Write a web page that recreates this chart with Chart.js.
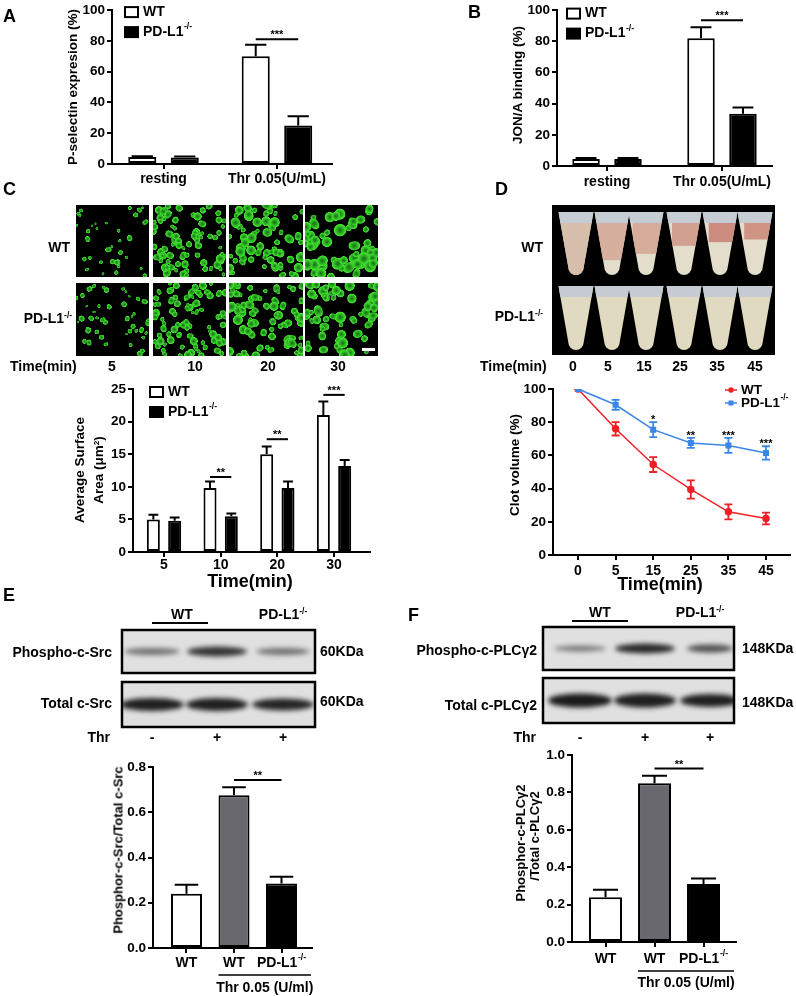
<!DOCTYPE html>
<html>
<head>
<meta charset="utf-8">
<script src="https://cdn.jsdelivr.net/npm/chart.js@4.4.1/dist/chart.umd.min.js"></script>
<style>
  body { margin: 0; background: #fff; }
  #fig { position: relative; width: 796px; height: 996px; overflow: hidden;
         font-family: 'Liberation Sans', Arial, sans-serif; font-weight: bold; color: #000; }
  #fig canvas { position: absolute; }
  .t { position: absolute; white-space: nowrap; line-height: 1; }
  .t sup { font-size: 0.6em; vertical-align: baseline; position: relative; top: -0.55em; }
</style>
</head>
<body>
<div id="fig"><canvas id="bg" width="796" height="996" style="left:0;top:0"></canvas></div>
<script>
// ---- data ----
const seriesNames = ['WT', 'PD-L1^-/-'];

const pselCats = ['resting', 'Thr 0.05(U/mL)'];
const pselWT = [4.5, 70];
const pselWTErr = [0.6, 7.5];
const pselKO = [4.2, 25];
const pselKOErr = [0.6, 6];
const pselSig = ['', '***'];
const pselSigLevel = [null, 81];

const jonCats = ['resting', 'Thr 0.05(U/mL)'];
const jonWT = [4.5, 82];
const jonWTErr = [0.7, 7];
const jonKO = [4.5, 33.5];
const jonKOErr = [0.6, 4];
const jonSig = ['', '***'];
const jonSigLevel = [null, 93.5];

const spreadTimes = ['5', '10', '20', '30'];
const spreadWT = [5, 9.8, 15, 21];
const spreadWTErr = [0.7, 1.0, 1.2, 2.1];
const spreadKO = [4.8, 5.5, 9.8, 13.2];
const spreadKOErr = [0.5, 0.4, 1.0, 0.9];
const spreadSig = ['', '**', '**', '***'];
const spreadSigLevel = [null, 11.5, 17.3, 24.1];

const clotTimes = ['0', '5', '15', '25', '35', '45'];
const clotWT = [100, 76, 54.5, 39.5, 26, 22];
const clotWTErr = [0, 4, 4.5, 5.5, 4.5, 3.5];
const clotKO = [100, 90.5, 75.5, 67.5, 66, 61.5];
const clotKOErr = [0, 3, 4.5, 3, 4.5, 4];
const clotSig = ['', '', '*', '**', '***', '***'];

const blotGroups = ['WT', 'WT', 'PD-L1^-/-'];
const treatLabel = 'Thr 0.05 (U/ml)';
const srcVals = [0.24, 0.675, 0.285];
const srcErr = [0.04, 0.035, 0.03];
const srcSigLevel = 0.742;
const plcVals = [0.24, 0.85, 0.31];
const plcErr = [0.04, 0.04, 0.03];
const plcSigLevel = 0.928;
const sigText = '**';

// ---- setup ----
const FONT = "'Liberation Sans', Arial, sans-serif";
const RED = 'rgb(238,32,36)';
const BLUE = 'rgb(58,134,232)';
const GREY = 'rgb(104,104,110)';
const fig = document.getElementById('fig');

Chart.defaults.font.family = FONT;
Chart.defaults.font.weight = 'bold';
Chart.defaults.font.size = 14;
Chart.defaults.color = '#000';
Chart.defaults.animation = false;
Chart.defaults.plugins.legend.display = false;
Chart.defaults.plugins.tooltip.enabled = false;

function richText(ctx, s, x, y, size, align) {
  const parts = s.split('^');
  const ss = size * 0.62;
  ctx.save();
  ctx.fillStyle = '#000';
  ctx.textBaseline = 'middle';
  ctx.textAlign = 'left';
  ctx.font = 'bold ' + size + 'px ' + FONT;
  const w1 = ctx.measureText(parts[0]).width;
  let w2 = 0;
  if (parts[1]) { ctx.font = 'bold ' + ss + 'px ' + FONT; w2 = ctx.measureText(parts[1]).width + 0.5; }
  const x0 = align === 'center' ? x - (w1 + w2) / 2 : align === 'right' ? x - w1 - w2 : x;
  ctx.font = 'bold ' + size + 'px ' + FONT;
  ctx.fillText(parts[0], x0, y);
  if (parts[1]) {
    ctx.font = 'bold ' + ss + 'px ' + FONT;
    ctx.fillText(parts[1], x0 + w1 + 0.5, y - size * 0.36);
  }
  ctx.restore();
}

function makeCanvas(box) {
  const c = document.createElement('canvas');
  c.width = box[2]; c.height = box[3];
  c.style.left = box[0] + 'px'; c.style.top = box[1] + 'px';
  c.style.width = box[2] + 'px'; c.style.height = box[3] + 'px';
  fig.appendChild(c);
  return c;
}

// box = canvas [left, top, w, h], area = plot [left, top, right, bottom] in page px
function frame(box, area) {
  return { yw: area[0] - box[0], top: area[1] - box[1], right: box[0] + box[2] - area[2], xh: box[1] + box[3] - area[3] };
}

function axisLine() {
  return {
    grid: { drawOnChartArea: false, offset: false, color: '#000', lineWidth: 2, tickLength: 5 },
    border: { color: '#000', width: 2 }
  };
}

function xScale(labels, min, max, h, show, pad) {
  return Object.assign({
    type: 'linear', min: min, max: max, offset: false,
    afterBuildTicks: s => { s.ticks = labels.map((l, i) => ({ value: i })); },
    afterFit: s => { s.height = h; },
    ticks: { display: show, autoSkip: false, maxRotation: 0, padding: pad,
             font: { size: 14, lineHeight: 1 }, callback: v => labels[v] }
  }, axisLine());
}

function yScale(max, step, w, digits) {
  return Object.assign({
    min: 0, max: max,
    afterFit: s => { s.width = w; },
    ticks: { stepSize: step, padding: 2, font: { size: 13.5 },
             callback: v => digits ? v.toFixed(digits) : v }
  }, axisLine());
}

const barErrors = {
  id: 'barErrors',
  afterDatasetsDraw(chart) {
    const ctx = chart.ctx, ys = chart.scales.y;
    chart.data.datasets.forEach((ds, di) => {
      chart.getDatasetMeta(di).data.forEach((bar, i) => {
        const top = ys.getPixelForValue(ds.data[i].y + ds.errors[i]);
        const half = bar.width * 0.38;
        ctx.save();
        ctx.strokeStyle = '#000'; ctx.lineWidth = 2;
        ctx.beginPath();
        ctx.moveTo(bar.x, bar.y); ctx.lineTo(bar.x, top);
        ctx.moveTo(bar.x - half, top); ctx.lineTo(bar.x + half, top);
        ctx.stroke();
        ctx.restore();
      });
    });
  }
};

// significance bar between two bars
function sigPlugin(items) {
  return {
    id: 'sig',
    afterDatasetsDraw(chart) {
      const ctx = chart.ctx, ys = chart.scales.y;
      items.forEach(it => {
        const a = chart.getDatasetMeta(it.from[0]).data[it.from[1]];
        const b = chart.getDatasetMeta(it.to[0]).data[it.to[1]];
        const py = ys.getPixelForValue(it.level);
        ctx.save();
        ctx.strokeStyle = '#000'; ctx.lineWidth = 2;
        ctx.beginPath(); ctx.moveTo(a.x, py); ctx.lineTo(b.x, py); ctx.stroke();
        ctx.fillStyle = '#000';
        ctx.font = 'bold 11px ' + FONT;
        ctx.textAlign = 'center'; ctx.textBaseline = 'alphabetic';
        ctx.fillText(it.text, (a.x + b.x) / 2, py - 1);
        ctx.restore();
      });
    }
  };
}

function groupSig(texts, levels) {
  const items = [];
  texts.forEach((t, i) => { if (t) items.push({ from: [0, i], to: [1, i], level: levels[i], text: t }); });
  return sigPlugin(items);
}

function boxLegend(dx, dy, gap) {
  const fills = ['#fff', '#000'];
  return {
    id: 'boxLegend',
    afterDraw(chart) {
      const ctx = chart.ctx, a = chart.chartArea;
      seriesNames.forEach((name, k) => {
        const x = a.left + dx, y = a.top + dy + k * gap;
        ctx.save();
        ctx.fillStyle = fills[k]; ctx.fillRect(x, y - 5, 13, 10);
        ctx.strokeStyle = '#000'; ctx.lineWidth = 2; ctx.strokeRect(x, y - 5, 13, 10);
        ctx.restore();
        richText(ctx, name, x + 18, y, 14, 'left');
      });
    }
  };
}

function groupLabels(dy1, dy2, dy3) {
  return {
    id: 'grpLabels',
    afterDraw(chart) {
      const ctx = chart.ctx, a = chart.chartArea, bars = chart.getDatasetMeta(0).data;
      blotGroups.forEach((l, i) => richText(ctx, l, bars[i].x, a.bottom + dy1, 14, 'center'));
      const x1 = bars[1].x - bars[1].width / 2, x2 = bars[2].x + bars[2].width / 2 + 14;
      ctx.save();
      ctx.strokeStyle = '#000'; ctx.lineWidth = 1.5;
      ctx.beginPath(); ctx.moveTo(x1, a.bottom + dy2); ctx.lineTo(x2, a.bottom + dy2); ctx.stroke();
      ctx.restore();
      richText(ctx, treatLabel, (x1 + x2) / 2, a.bottom + dy3, 14, 'center');
    }
  };
}

function barChart(o) {
  const f = frame(o.box, o.area);
  return new Chart(makeCanvas(o.box), {
    type: 'bar',
    data: { datasets: o.datasets },
    options: {
      responsive: false,
      layout: { padding: { top: f.top, right: f.right, left: 0, bottom: 0 } },
      datasets: { bar: { categoryPercentage: o.cat, barPercentage: o.bar, borderWidth: 2,
                         borderColor: '#000', borderSkipped: false } },
      scales: {
        x: xScale(o.labels, o.xmin, o.xmax, f.xh, o.showX, o.xpad),
        y: yScale(o.ymax, o.ystep, f.yw, o.digits)
      }
    },
    plugins: o.plugins
  });
}

function pairSets(wt, wtErr, ko, koErr) {
  return [
    { data: wt.map((v, i) => ({ x: i, y: v })), errors: wtErr, backgroundColor: '#fff' },
    { data: ko.map((v, i) => ({ x: i, y: v })), errors: koErr, backgroundColor: '#000' }
  ];
}

// ---- A ----
barChart({
  box: [0, 0, 400, 190], area: [112, 10, 332, 164],
  labels: pselCats, xmin: -0.454, xmax: 1.485, showX: true, xpad: 3,
  cat: 0.749, bar: 0.66, ymax: 100, ystep: 20,
  datasets: pairSets(pselWT, pselWTErr, pselKO, pselKOErr),
  plugins: [barErrors, groupSig(pselSig, pselSigLevel), boxLegend(13, 2, 20)]
});

// ---- B ----
barChart({
  box: [400, 0, 396, 190], area: [557, 8, 772, 166],
  labels: jonCats, xmin: -0.435, xmax: 1.435, showX: true, xpad: 4,
  cat: 0.73, bar: 0.655, ymax: 100, ystep: 20,
  datasets: pairSets(jonWT, jonWTErr, jonKO, jonKOErr),
  plugins: [barErrors, groupSig(jonSig, jonSigLevel), boxLegend(10, 3.5, 20)]
});

// ---- C ----
barChart({
  box: [0, 375, 400, 215], area: [133, 389, 370, 552],
  labels: spreadTimes, xmin: -0.547, xmax: 3.635, showX: true, xpad: 1,
  cat: 0.752, bar: 0.61, ymax: 25, ystep: 5,
  datasets: pairSets(spreadWT, spreadWTErr, spreadKO, spreadKOErr),
  plugins: [barErrors, groupSig(spreadSig, spreadSigLevel), boxLegend(17, 3, 20)]
});

// ---- D ----
const lineErrors = {
  id: 'lineErrors',
  beforeDatasetsDraw(chart) {
    const ctx = chart.ctx, ys = chart.scales.y;
    chart.data.datasets.forEach((ds, di) => {
      chart.getDatasetMeta(di).data.forEach((pt, i) => {
        const e = ds.errors[i];
        if (!e) return;
        const hi = ys.getPixelForValue(ds.data[i].y + e), lo = ys.getPixelForValue(ds.data[i].y - e);
        ctx.save();
        ctx.strokeStyle = ds.borderColor; ctx.lineWidth = 1.8;
        ctx.beginPath();
        ctx.moveTo(pt.x, hi); ctx.lineTo(pt.x, lo);
        ctx.moveTo(pt.x - 4, hi); ctx.lineTo(pt.x + 4, hi);
        ctx.moveTo(pt.x - 4, lo); ctx.lineTo(pt.x + 4, lo);
        ctx.stroke();
        ctx.restore();
      });
    });
  }
};
const clotStars = {
  id: 'clotStars',
  afterDatasetsDraw(chart) {
    const ctx = chart.ctx, ys = chart.scales.y, pts = chart.getDatasetMeta(1).data;
    ctx.save();
    ctx.fillStyle = '#000'; ctx.font = 'bold 11px ' + FONT;
    ctx.textAlign = 'center'; ctx.textBaseline = 'alphabetic';
    clotSig.forEach((t, i) => {
      if (t) ctx.fillText(t, pts[i].x, ys.getPixelForValue(clotKO[i] + clotKOErr[i]) + 1);
    });
    ctx.restore();
  }
};
const lineLegend = {
  id: 'lineLegend',
  afterDraw(chart) {
    const ctx = chart.ctx, a = chart.chartArea;
    chart.data.datasets.forEach((ds, k) => {
      const x = a.right - 65, y = a.top + 1 + k * 13;
      ctx.save();
      ctx.strokeStyle = ds.borderColor; ctx.fillStyle = ds.borderColor; ctx.lineWidth = 1.5;
      ctx.beginPath(); ctx.moveTo(x, y); ctx.lineTo(x + 12, y); ctx.stroke();
      if (ds.pointStyle === 'rect') ctx.fillRect(x + 3.5, y - 2.5, 5, 5);
      else { ctx.beginPath(); ctx.arc(x + 6, y, 2.7, 0, Math.PI * 2); ctx.fill(); }
      ctx.restore();
      richText(ctx, seriesNames[k], x + 16, y, 13.5, 'left');
    });
  }
};
(function () {
  const box = [400, 375, 396, 215], f = frame(box, [553, 389, 790, 555]);
  new Chart(makeCanvas(box), {
    type: 'line',
    data: {
      datasets: [
        { data: clotWT.map((v, i) => ({ x: i, y: v })), errors: clotWTErr, borderColor: RED,
          backgroundColor: RED, pointStyle: 'circle', pointRadius: 3, borderWidth: 1.5, order: 1 },
        { data: clotKO.map((v, i) => ({ x: i, y: v })), errors: clotKOErr, borderColor: BLUE,
          backgroundColor: BLUE, pointStyle: 'rect', pointRadius: 3.2, borderWidth: 1.5, order: 0 }
      ]
    },
    options: {
      responsive: false,
      layout: { padding: { top: f.top, right: f.right, left: 0, bottom: 0 } },
      scales: {
        x: xScale(clotTimes, -0.665, 5.638, f.xh, true, 4),
        y: yScale(100, 20, f.yw, 0)
      }
    },
    plugins: [lineErrors, clotStars, lineLegend]
  });
})();

// ---- E / F ----
function ratioSets(vals, err) {
  return [{ data: vals.map((v, i) => ({ x: i, y: v })), errors: err, backgroundColor: ['#fff', GREY, '#000'] }];
}
barChart({
  box: [0, 750, 400, 246], area: [153, 767, 312, 948],
  labels: blotGroups, xmin: -0.705, xmax: 2.642, showX: false, xpad: 2,
  cat: 1, bar: 0.653, ymax: 0.8, ystep: 0.2, digits: 1,
  datasets: ratioSets(srcVals, srcErr),
  plugins: [barErrors, sigPlugin([{ from: [0, 1], to: [0, 2], level: srcSigLevel, text: sigText }]), groupLabels(15, 27, 40)]
});
barChart({
  box: [400, 745, 396, 251], area: [572, 754, 736, 942],
  labels: blotGroups, xmin: -0.684, xmax: 2.663, showX: false, xpad: 2,
  cat: 1, bar: 0.673, ymax: 1.0, ystep: 0.2, digits: 1,
  datasets: ratioSets(plcVals, plcErr),
  plugins: [barErrors, sigPlugin([{ from: [0, 1], to: [0, 2], level: plcSigLevel, text: sigText }]), groupLabels(17, 29, 41)]
});

// ---- picture panels (photos / blots, drawn as plain shapes) ----
const bg = document.getElementById('bg').getContext('2d');

function lcg(seed) {
  return function () { seed = (seed * 16807) % 2147483647; return (seed - 1) / 2147483646; };
}
function cells(x, y, w, h, n, r, seed) {
  bg.fillStyle = '#000'; bg.fillRect(x, y, w, h);
  const rnd = lcg(seed);
  bg.save();
  bg.beginPath(); bg.rect(x, y, w, h); bg.clip();
  for (let k = 0; k < n; k++) {
    const cx = x + rnd() * w, cy = y + rnd() * h, rr = r * (0.6 + rnd() * 0.8);
    const g = bg.createRadialGradient(cx, cy, rr * 0.1, cx, cy, rr);
    g.addColorStop(0, 'rgb(25,120,25)');
    g.addColorStop(0.6, 'rgb(55,200,40)');
    g.addColorStop(0.85, 'rgb(70,230,50)');
    g.addColorStop(1, 'rgba(30,140,25,0.1)');
    bg.fillStyle = g;
    bg.beginPath(); bg.ellipse(cx, cy, rr, rr * (0.65 + rnd() * 0.35), rnd() * Math.PI, 0, Math.PI * 2); bg.fill();
  }
  bg.restore();
}
const imgCols = [[76, 149], [153, 226], [229, 303], [305, 378]];
const imgRows = [[205, 277], [283, 356]];
const cellCount = [[34, 85, 70, 55], [45, 90, 75, 62]];
const cellSize = [[2.5, 3.5, 4.3, 5.2], [2.5, 3.2, 4, 4.6]];
imgRows.forEach((rw, ri) => imgCols.forEach((cl, ci) => {
  cells(cl[0], rw[0], cl[1] - cl[0], rw[1] - rw[0], cellCount[ri][ci], cellSize[ri][ci], 101 + ri * 7 + ci * 31);
}));
bg.fillStyle = '#fff'; bg.fillRect(362, 348, 13, 3);

function tubePath(cx, top, bot, w) {
  const r = w * 0.22;
  bg.beginPath();
  bg.moveTo(cx - w / 2, top); bg.lineTo(cx + w / 2, top);
  bg.lineTo(cx + r, bot - r);
  bg.arc(cx, bot - r, r, 0, Math.PI);
  bg.closePath();
}
function tube(cx, top, bot, fill, clot, frac) {
  const w = 35;
  bg.save();
  tubePath(cx, top, bot, w);
  bg.fillStyle = fill; bg.fill();
  bg.clip();
  if (clot) { bg.fillStyle = clot; bg.fillRect(cx - w / 2 + (1 - frac) * 10, top + 10, w, (bot - top - 10) * frac); }
  bg.fillStyle = 'rgba(196,202,212,0.95)'; bg.fillRect(cx - w / 2, top, w, 11);
  bg.restore();
}
bg.fillStyle = '#000'; bg.fillRect(552, 205, 223, 150);
const tubeX = [576, 612, 646, 684, 720, 755];
const clotFrac = [1, 0.72, 0.6, 0.45, 0.38, 0.33];
const clotTint = ['rgb(214,190,170)', 'rgb(214,175,158)', 'rgb(214,172,155)', 'rgb(210,160,145)', 'rgb(205,140,128)', 'rgb(208,148,132)'];
tubeX.forEach((x, i) => {
  tube(x, 212, 275, 'rgb(226,222,203)', clotTint[i], clotFrac[i]);
  tube(x, 286, 350, 'rgb(224,218,192)', null, 0);
});

function blot(x, y, w, h, bands) {
  bg.fillStyle = 'rgb(224,224,224)'; bg.fillRect(x, y, w, h);
  bg.save();
  bg.beginPath(); bg.rect(x, y, w, h); bg.clip();
  bg.filter = 'blur(2.5px)';
  bands.forEach(b => {
    bg.fillStyle = 'rgba(20,20,20,' + b[3] + ')';
    bg.beginPath(); bg.ellipse(b[0], y + h / 2, b[1] / 2, b[2] / 2, 0, 0, Math.PI * 2); bg.fill();
  });
  bg.restore();
  bg.strokeStyle = '#000'; bg.lineWidth = 2.5; bg.strokeRect(x, y, w, h);
}
blot(122, 630, 193, 43, [[152, 56, 7, 0.55], [217, 60, 10, 0.85], [283, 54, 7, 0.55]]);
blot(122, 682, 193, 45, [[152, 64, 13, 0.95], [217, 62, 13, 0.95], [283, 62, 12, 0.92]]);
blot(543, 627, 191, 43, [[580, 52, 6, 0.5], [645, 60, 10, 0.9], [710, 46, 8, 0.7]]);
blot(543, 678, 191, 45, [[580, 64, 14, 0.97], [645, 62, 14, 0.95], [710, 60, 13, 0.95]]);
bg.strokeStyle = '#000'; bg.lineWidth = 2;
bg.beginPath(); bg.moveTo(152, 623); bg.lineTo(208, 623); bg.moveTo(572, 621); bg.lineTo(628, 621); bg.stroke();

// ---- text labels ----
function txt(html, x, y, align, size, rot) {
  const d = document.createElement('div');
  d.className = 't';
  d.innerHTML = html;
  d.style.left = x + 'px'; d.style.top = y + 'px';
  d.style.fontSize = size + 'px';
  const tx = align === 'c' ? '-50%' : align === 'r' ? '-100%' : '0';
  d.style.transform = 'translate(' + tx + ',-50%)' + (rot ? ' rotate(-90deg)' : '');
  fig.appendChild(d);
}
const KO = 'PD-L1<sup>-/-</sup>';
[['A', 3, 16], ['B', 468, 12], ['C', 3, 189], ['D', 495, 189], ['E', 3, 595], ['F', 408, 615]]
  .forEach(l => txt(l[0], l[1], l[2], 'l', 18));

txt('P-selectin expresion (%)', 73, 87, 'c', 13.5, true);
txt('JON/A binding (%)', 518, 85, 'c', 13.5, true);
txt('Average Surface', 80, 470, 'c', 13.5, true);
txt('Area (\u03bcm<sup>2</sup>)', 99, 470, 'c', 13.5, true);
txt('Clot volume (%)', 515, 465, 'c', 13.5, true);
txt('Phosphor-c-Src/Total c-Src', 118, 850, 'c', 13, true);
txt('Phosphor-c-PLC\u03b32', 520, 843, 'c', 13, true);
txt('/Total c-PLC\u03b32', 534, 836, 'c', 13, true);
txt('Time(min)', 250, 581, 'c', 18);
txt('Time(min)', 660, 584, 'c', 18);

txt('WT', 70, 247, 'r', 14); txt(KO, 72, 318, 'r', 14);
txt('Time(min)', 10, 366, 'l', 14);
['5', '10', '20', '30'].forEach((t, i) => txt(t, [112, 195, 268, 338][i], 366, 'c', 14));
txt('WT', 543, 247, 'r', 14); txt(KO, 543, 316, 'r', 14);
txt('Time(min)', 480, 366, 'l', 14);
clotTimes.forEach((t, i) => txt(t, [573, 608, 644, 680, 717, 755][i], 366, 'c', 14));

txt('WT', 182, 614, 'c', 14); txt(KO, 283, 614, 'c', 14);
txt('Phospho-c-Src', 112, 652, 'r', 14); txt('Total c-Src', 112, 703, 'r', 14);
txt('60KDa', 320, 651, 'l', 14); txt('60KDa', 320, 701, 'l', 14);
txt('Thr', 110, 737, 'r', 14);
['-', '+', '+'].forEach((t, i) => txt(t, [152, 217, 283][i], 737, 'c', 14));

txt('WT', 600, 612, 'c', 14); txt(KO, 700, 612, 'c', 14);
txt('Phospho-c-PLC\u03b32', 537, 650, 'r', 14); txt('Total c-PLC\u03b32', 537, 705, 'r', 14);
txt('148KDa', 742, 648, 'l', 14); txt('148KDa', 742, 702, 'l', 14);
txt('Thr', 536, 737, 'r', 14);
['-', '+', '+'].forEach((t, i) => txt(t, [580, 645, 710][i], 737, 'c', 14));
</script>
</body>
</html>
